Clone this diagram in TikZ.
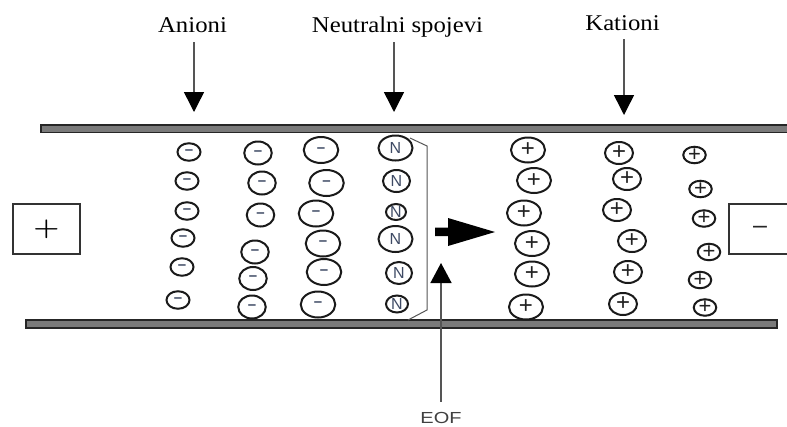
\documentclass[tikz,border=0pt]{standalone}
\usepackage{fontspec}
\setmainfont{Liberation Serif}
\setsansfont{Liberation Sans}
\usetikzlibrary{shapes.geometric,arrows.meta}
\definecolor{ioncol}{HTML}{1A1A1A}
\definecolor{signcol}{HTML}{3E4A64}
\definecolor{pluscol}{HTML}{222222}
\definecolor{barfill}{HTML}{7A7A7A}
\definecolor{bardraw}{HTML}{262626}
\definecolor{shaft}{HTML}{555555}
\begin{document}
\begin{tikzpicture}[x=1pt,y=-1pt,
  bar/.style={fill=barfill,draw=bardraw,line width=1.3pt},
  electrode/.style={draw=black!80,line width=2pt,inner sep=0pt},
  toplabel/.style={font=\fontsize{22.5}{24}\selectfont,inner sep=0pt},
  toparrow/.style={draw=shaft,line width=1.5pt,-{Triangle[width=20pt,length=20pt,color=black]}},
  eofarrow/.style={draw=shaft,line width=1.5pt,-{Triangle[width=21pt,length=20pt,color=black]}},
  bracketline/.style={draw=shaft,line width=1pt},
  ion/.style={ellipse,draw=ioncol,line width=2pt,inner sep=0pt},
  minussign/.style={inner sep=0pt,text=signcol,font=\sffamily\bfseries\fontsize{15}{15}\selectfont},
  plussign/.style={inner sep=0pt,text=pluscol,font=\sffamily\fontsize{24}{24}\selectfont},
  nsign/.style={inner sep=0pt,text=signcol,font=\sffamily\fontsize{16}{16}\selectfont},
  anA/.style={ion,minimum width=23pt,minimum height=17.5pt,label={[minussign]center:–}},
  anB/.style={ion,minimum width=27.5pt,minimum height=23pt,label={[minussign]center:–}},
  anC/.style={ion,minimum width=34.5pt,minimum height=26pt,label={[minussign]center:–}},
  catA/.style={ion,minimum width=34pt,minimum height=25pt,label={[plussign]center:+}},
  catB/.style={ion,minimum width=28pt,minimum height=22pt,label={[plussign]center:+}},
  catC/.style={ion,minimum width=22.5pt,minimum height=16.5pt,label={[plussign,font=\sffamily\fontsize{22}{22}\selectfont]center:+}},
  neutral/.style={ion,label={[nsign]center:N}}
]
\useasboundingbox (0,0) rectangle (787,426);
\fill[white] (0,0) rectangle (787,426);

% capillary walls
\draw[bar] (41,125) rectangle (796,132.5);
\draw[bar] (26,320) rectangle (777,328);

% electrodes
\node[electrode,minimum width=67pt,minimum height=50pt] (anode) at (46.5,229)
  {\fontsize{34}{34}\selectfont\scalebox{1.2}[1]{\boldmath$+$}};
\node[electrode,minimum width=80pt,minimum height=50pt,anchor=west] (cathode) at (728,229) {};
\node[inner sep=0pt,font=\sffamily\fontsize{25}{25}\selectfont,text=black!85] (cathsign) at (760,230) {–};

% anions
\foreach \x/\y [count=\i] in {189/152,187/181,187/211,183/238,182/267,178/300}
  \node[anA] (a\i) at (\x,\y) {};
\foreach \x/\y [count=\i] in {258/153,262/183,260.5/215,255/252,253/278.5,252/307}
  \node[anB] (b\i) at (\x,\y) {};
\foreach \x/\y [count=\i] in {321/150,326.5/183,316/213.5,323/243.5,324/272,318/304.5}
  \node[anC] (c\i) at (\x,\y) {};

% neutral
\foreach \x/\y/\w/\h [count=\i] in {395.5/148/34/25,396.5/181/27/22,396/212/20/16,395.5/239/34/26,399/273/26/22,397/304/22/17}
  \node[neutral,minimum width=\w pt,minimum height=\h pt] (n\i) at (\x,\y) {};

% cations
\foreach \x/\y [count=\i] in {528/150,534/180.5,524/213,532/243.5,532/274,526/307}
  \node[catA] (p\i) at (\x,\y) {};
\foreach \x/\y [count=\i] in {619/153,627/179,617/210,632/241,628/272,623/304}
  \node[catB] (q\i) at (\x,\y) {};
\foreach \x/\y [count=\i] in {694.5/155,700.5/189,704/218.5,709/252,700/280,705/307.5}
  \node[catC] (r\i) at (\x,\y) {};

% neutral zone bracket
\draw[bracketline] (410,138) -- (427,146) -- (427,310) -- (408,320);

% migration arrow
\fill[black] (435,227.5) -- (448,227.5) -- (448,218) -- (495,232) -- (448,246) -- (448,236) -- (435,236) -- cycle;

% top labels and arrows
\node[toplabel,anchor=base] (lan) at (192.5,32) {\scalebox{1.1}[1]{Anioni}};
\node[toplabel,anchor=base] (lne) at (397.5,32) {\scalebox{1.1}[1]{Neutralni spojevi}};
\node[toplabel,anchor=base] (lka) at (622.5,30) {\scalebox{1.1}[1]{Kationi}};
\coordinate (tan) at (194,112);
\coordinate (tne) at (394,112);
\coordinate (tka) at (624,115);
\draw[toparrow] ([yshift=-10pt]lan.base -| tan) -- (tan);
\draw[toparrow] ([yshift=-10pt]lne.base -| tne) -- (tne);
\draw[toparrow] ([yshift=-9pt]lka.base -| tka) -- (tka);

% EOF
\node[inner sep=0pt,font=\sffamily\fontsize{16}{16}\selectfont,text=black!75] (eof) at (441,417.5) {\scalebox{1.25}[1]{EOF}};
\coordinate (eoft) at (441,263);
\draw[eofarrow] ([yshift=10pt]eof.north -| eoft) -- (eoft);
\end{tikzpicture}
\end{document}
